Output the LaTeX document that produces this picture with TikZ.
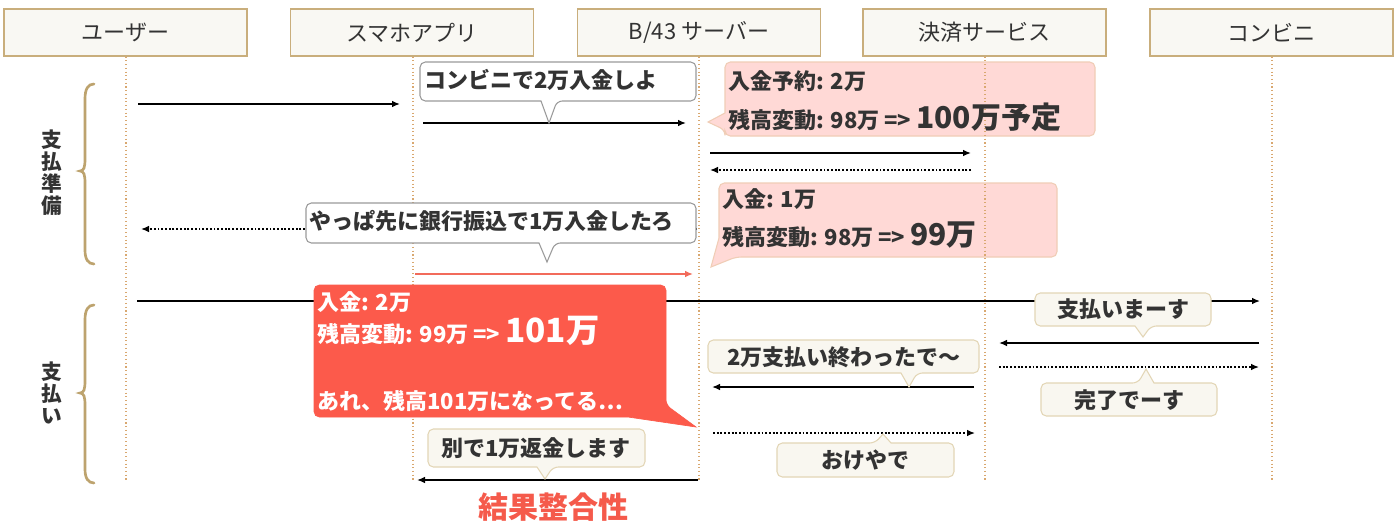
\documentclass[tikz,border=0pt]{standalone}
\usepackage{fontspec}
\setmainfont{Noto Sans CJK JP}
\usetikzlibrary{arrows.meta}
\definecolor{txt}{HTML}{333333}
\definecolor{hdrfill}{HTML}{F9F8F3}
\definecolor{hdrborder}{HTML}{C9AE7C}
\definecolor{lifec}{HTML}{D9A870}
\definecolor{bracec}{HTML}{BDA36E}
\definecolor{bubgray}{HTML}{9A9A9A}
\definecolor{beigefill}{HTML}{F9F7F0}
\definecolor{beigeborder}{HTML}{E3D6B6}
\definecolor{pinkfill}{HTML}{FFD9D6}
\definecolor{pinkborder}{HTML}{F0CDB6}
\definecolor{redfill}{HTML}{FC5A4B}
\definecolor{redtxt}{HTML}{F55A4B}
\definecolor{redarrow}{HTML}{F26B5B}
\begin{document}
\begin{tikzpicture}[x=0.75pt,y=-0.75pt,
  hdr/.style={draw=hdrborder, line width=1.1pt, fill=hdrfill, minimum width=182pt, minimum height=35pt, inner sep=0pt, font=\fontsize{16.5}{19}\selectfont, text=txt},
  life/.style={draw=lifec, line width=0.8pt, dash pattern=on 0.8pt off 2pt},
  brc/.style={draw=bracec, line width=2pt, line cap=round},
  arr/.style={draw=black, line width=1.1pt, -{Latex[length=6pt,width=5pt]}},
  dotarr/.style={arr, dash pattern=on 1.4pt off 1.4pt},
  redarr/.style={arr, draw=redarrow, -{Latex[length=6pt,width=5pt,color=redarrow]}},
  wbub/.style={fill=white, draw=bubgray, line width=0.8pt},
  bbub/.style={fill=beigefill, draw=beigeborder, line width=0.8pt},
  pbub/.style={fill=pinkfill, draw=pinkborder, line width=0.8pt},
  rbub/.style={fill=redfill, draw=redfill, line width=0.5pt},
  btxt/.style={inner sep=0pt, text=txt, font=\bfseries\fontsize{16.5}{20}\selectfont},
  ptxt/.style={inner sep=0pt, anchor=base west, text=txt, font=\bfseries\fontsize{16.5}{20}\selectfont},
  rtxt/.style={ptxt, text=white},
  lbl/.style={inner sep=0pt, text=txt, align=center, font=\bfseries\fontsize{15.5}{16.5}\selectfont}
]
\newcommand\bigtxt[1]{{\fontsize{22.5}{26}\selectfont #1}}
\newcommand\biggtxt[1]{{\fontsize{25}{28}\selectfont #1}}
\path[use as bounding box, fill=white] (0,0) rectangle (1400,526);

% headers
\node[hdr] (user) at (125.5,32.5) {ユーザー};
\node[hdr] (app) at (412,32.5) {スマホアプリ};
\node[hdr] (srv) at (699,32.5) {B/43 サーバー};
\node[hdr] (pay) at (984.5,32.5) {決済サービス};
\node[hdr] (cvs) at (1271.5,32.5) {コンビニ};

% pink bubbles (under lifelines)
\path[pbub, rounded corners=4] (725,62) -- (1095,62) -- (1095,136) -- (725,136) -- (725,130) [sharp corners] -- (708,122) -- (725,113) [rounded corners=4] -- cycle;
\path[pbub, rounded corners=4] (719,183) -- (1057,183) -- (1057,257) -- (736,257) [sharp corners] -- (711,267) -- (719,238) [rounded corners=4] -- cycle;

% lifelines
\coordinate (userE) at (126,482);
\coordinate (appE) at (413,482);
\coordinate (srvE) at (699,482);
\coordinate (payE) at (985,482);
\coordinate (cvsE) at (1272,482);
\draw[life] (user.south -| userE) -- (userE);
\draw[life] (app.south -| appE) -- (appE);
\draw[life] (srv.south -| srvE) -- (srvE);
\draw[life] (pay.south -| payE) -- (payE);
\draw[life] (cvs.south -| cvsE) -- (cvsE);

% braces
\draw[brc] (94,84) .. controls (88,84) and (85,89) .. (85,99) -- (85,159) .. controls (85,167) and (84,171) .. (80,171) .. controls (84,171) and (85,175) .. (85,183) -- (85,250) .. controls (85,259) and (88,264) .. (94,264);
\draw[brc] (94,305) .. controls (88,305) and (85,310) .. (85,320) -- (85,381) .. controls (85,389) and (84,393) .. (80,393) .. controls (84,393) and (85,397) .. (85,405) -- (85,469) .. controls (85,478) and (88,483) .. (94,483);
\node[lbl] (prep) at (52,173) {支\\払\\準\\備};
\node[lbl] (payl) at (52,393) {支\\払\\い};

% arrow end points
\coordinate (a1s) at (138,104);  \coordinate (a1e) at (400,104);
\coordinate (a2s) at (423,123);  \coordinate (a2e) at (686,123);
\coordinate (a3s) at (710,153);  \coordinate (a3e) at (971,153);
\coordinate (a4s) at (971,170);  \coordinate (a4e) at (710,170);
\coordinate (a5s) at (697,229);  \coordinate (a5e) at (141,229);
\coordinate (a6s) at (415,274);  \coordinate (a6e) at (693,274);
\coordinate (a7s) at (137,301);  \coordinate (a7e) at (1260,301);
\coordinate (a8s) at (1259,343); \coordinate (a8e) at (999,343);
\coordinate (a9s) at (999,367);  \coordinate (a9e) at (1259,367);
\coordinate (a10s) at (974,387); \coordinate (a10e) at (712,387);
\coordinate (a11s) at (713,433); \coordinate (a11e) at (975,433);
\coordinate (a12s) at (698,480); \coordinate (a12e) at (417,480);

\draw[arr] (a1s) -- (a1e);
\draw[arr] (a2s) -- (a2e);
\draw[arr] (a3s) -- (a3e);
\draw[dotarr] (a4s) -- (a4e);
\draw[dotarr] (a5s) -- (a5e);
\draw[redarr] (a6s) -- (a6e);
\draw[arr] (a7s) -- (a7e);
\draw[arr] (a8s) -- (a8e);
\draw[dotarr] (a9s) -- (a9e);
\draw[arr] (a10s) -- (a10e);
\draw[dotarr] (a11s) -- (a11e);
\draw[arr] (a12s) -- (a12e);

% white bubbles
\path[wbub, rounded corners=4] (420,62) -- (696,62) -- (696,101) -- (557,101) [sharp corners] -- (549,123) -- (541,101) [rounded corners=4] -- (420,101) -- cycle;
\path[wbub, rounded corners=4] (306,203) -- (696,203) -- (696,243) -- (555,243) [sharp corners] -- (547,262) -- (539,243) [rounded corners=4] -- (306,243) -- cycle;

% beige bubbles
\path[bbub, rounded corners=4] (428,429) -- (645,429) -- (645,467) -- (553,467) [sharp corners] -- (545,479) -- (537,467) [rounded corners=4] -- (428,467) -- cycle;
\path[bbub, rounded corners=4] (1035,293) -- (1211,293) -- (1211,326) -- (1151,326) [sharp corners] -- (1143,337) -- (1135,326) [rounded corners=4] -- (1035,326) -- cycle;
\path[bbub, rounded corners=4] (1041,383) -- (1138,383) [sharp corners] -- (1146,369) -- (1154,383) [rounded corners=4] -- (1217,383) -- (1217,416) -- (1041,416) -- cycle;
\path[bbub, rounded corners=4] (708,340) -- (979,340) -- (979,373) -- (917,373) [sharp corners] -- (909,387) -- (901,373) [rounded corners=4] -- (708,373) -- cycle;
\path[bbub, rounded corners=4] (777,443) -- (875,443) [sharp corners] -- (883,434) -- (891,443) [rounded corners=4] -- (954,443) -- (954,477) -- (777,477) -- cycle;

% red bubble
\path[rbub, rounded corners=4] (314,285) -- (666,285) -- (666,405) [sharp corners] -- (696,427) -- (628,417) [rounded corners=4] -- (314,417) -- cycle;

% texts
\node[btxt, anchor=base west] (t1) at (424,88) {コンビニで2万入金しよ};
\node[btxt, anchor=base west] (t2) at (309,229) {やっぱ先に銀行振込で1万入金したろ};
\node[ptxt] (t3) at (728,89) {入金予約: 2万};
\node[ptxt] (t4) at (728,128) {残高変動: 98万 => \bigtxt{100万予定}};
\node[ptxt] (t5) at (722,207) {入金: 1万};
\node[ptxt] (t6) at (722,245) {残高変動: 98万 => \bigtxt{99万}};
\node[rtxt] (t7) at (317,310) {入金: 2万};
\node[rtxt] (t8) at (317,342) {残高変動: 99万 => \biggtxt{101万}};
\node[rtxt] (t9) at (317,409) {あれ、残高101万になってる…};
\node[btxt] (t10) at (536,448) {別で1万返金します};
\node[btxt] (t11) at (1123,309) {支払いまーす};
\node[btxt] (t12) at (1129,400) {完了でーす};
\node[btxt] (t13) at (844,357) {2万支払い終わったで〜};
\node[btxt] (t14) at (865,460) {おけやで};
\node[inner sep=0pt, text=redtxt, font=\bfseries\fontsize{22.5}{26}\selectfont] (t15) at (553,507) {結果整合性};
\end{tikzpicture}
\end{document}
